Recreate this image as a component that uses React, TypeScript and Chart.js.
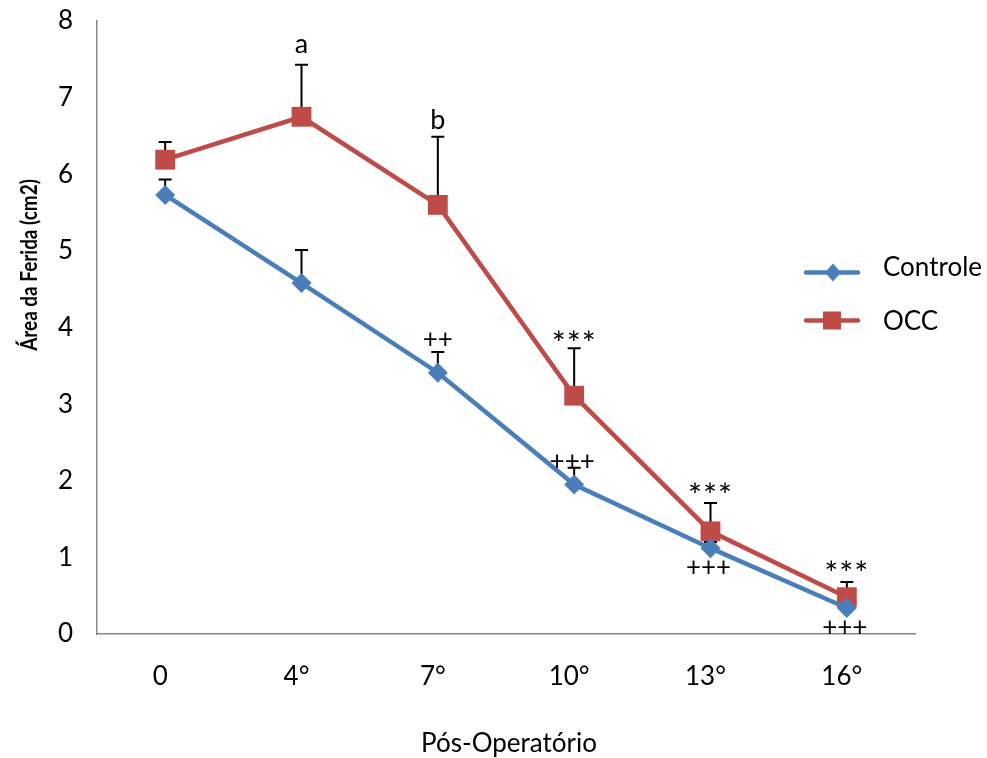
import React, { useEffect, useRef } from 'react';
import { Chart, registerables } from 'chart.js';

Chart.register(...registerables);

const categories = ['0', '4°', '7°', '10°', '13°', '16°'];
const controleValues = [5.73, 4.58, 3.41, 1.95, 1.12, 0.34];
const occValues = [6.19, 6.75, 5.6, 3.11, 1.34, 0.48];
const controleErrorTop = [5.93, 5.01, 3.68, 2.17, 1.2, 0.42];
const occErrorTop = [6.42, 7.43, 6.49, 3.73, 1.71, 0.68];
const yTicks = [0, 1, 2, 3, 4, 5, 6, 7, 8];

const noteTexts = ['a', 'b', '++', '***', '+++', '***', '+++', '***', '+++'];
const noteCategory = [1, 2, 2, 3, 3, 4, 4, 5, 5];
const noteValue = [7.7, 6.71, 3.84, 3.9, 2.25, 1.91, 0.87, 0.89, 0.08];

const BLUE = '#4A7EBB';
const RED = '#BE4B48';
const FONT = 'Lato, "Open Sans", sans-serif';

const extrasPlugin = {
  id: 'extras',
  beforeDatasetsDraw(chart: any) {
    const { ctx, scales } = chart;
    const x = scales.x;
    const y = scales.y;
    ctx.save();
    ctx.strokeStyle = '#000';
    ctx.lineWidth = 2;
    const drawErr = (vals: number[], tops: number[]) => {
      vals.forEach((v, i) => {
        const px = x.getPixelForValue(i);
        const py = y.getPixelForValue(v);
        const pt = y.getPixelForValue(tops[i]);
        ctx.beginPath();
        ctx.moveTo(px, py);
        ctx.lineTo(px, pt);
        ctx.moveTo(px - 6.5, pt);
        ctx.lineTo(px + 6.5, pt);
        ctx.stroke();
      });
    };
    drawErr(controleValues, controleErrorTop);
    drawErr(occValues, occErrorTop);
    ctx.restore();
  },
  afterDraw(chart: any) {
    const { ctx, scales } = chart;
    const x = scales.x;
    const y = scales.y;
    ctx.save();
    ctx.fillStyle = '#000';
    ctx.textAlign = 'center';
    ctx.textBaseline = 'middle';
    noteTexts.forEach((t, i) => {
      const letter = t === 'a' || t === 'b';
      const star = t === '***';
      ctx.font = `${letter ? 27 : star ? 33 : 26}px ${FONT}`;
      (ctx as any).letterSpacing = star ? '1px' : '0px';
      const px = x.getPixelForValue(noteCategory[i]) - (t === '+++' ? 2 : 0);
      let py = y.getPixelForValue(noteValue[i]);
      if (star) py += 9;
      ctx.fillText(t, px, py);
    });
    (ctx as any).letterSpacing = '0px';

    // y title
    ctx.save();
    ctx.translate(30, 265);
    ctx.rotate(-Math.PI / 2);
    ctx.scale(0.86, 1);
    ctx.font = `bold 22px ${FONT}`;
    ctx.textAlign = 'center';
    ctx.textBaseline = 'middle';
    ctx.fillText('Área da Ferida (cm2)', 0, 0);
    ctx.restore();

    // x title
    ctx.font = `26px ${FONT}`;
    ctx.textAlign = 'center';
    ctx.textBaseline = 'alphabetic';
    ctx.fillText('Pós-Operatório', 509, 752);

    // legend
    const items = [
      { label: 'Controle', color: BLUE, style: 'diamond', yy: 272.5, ty: 276 },
      { label: 'OCC', color: RED, style: 'square', yy: 320.5, ty: 330 },
    ];
    items.forEach((it) => {
      ctx.strokeStyle = it.color;
      ctx.lineWidth = 4.5;
      ctx.lineCap = 'round';
      ctx.beginPath();
      ctx.moveTo(806, it.yy);
      ctx.lineTo(858, it.yy);
      ctx.stroke();
      ctx.fillStyle = it.color;
      if (it.style === 'diamond') {
        ctx.beginPath();
        ctx.moveTo(833, it.yy - 9);
        ctx.lineTo(841, it.yy);
        ctx.lineTo(833, it.yy + 9);
        ctx.lineTo(825, it.yy);
        ctx.closePath();
        ctx.fill();
      } else {
        ctx.fillRect(823, it.yy - 9, 18, 18);
      }
      ctx.fillStyle = '#000';
      ctx.font = `26px ${FONT}`;
      ctx.textAlign = 'left';
      ctx.textBaseline = 'alphabetic';
      ctx.fillText(it.label, 883, it.ty);
    });
    ctx.restore();
  },
};

export default function App() {
  const ref = useRef<HTMLCanvasElement>(null);
  useEffect(() => {
    document.body.style.margin = '0';
    const chart = new Chart(ref.current as HTMLCanvasElement, {
      type: 'line',
      data: {
        labels: categories,
        datasets: [
          {
            label: 'Controle',
            data: controleValues,
            borderColor: BLUE,
            backgroundColor: BLUE,
            borderWidth: 4.5,
            pointStyle: 'rectRot',
            pointRadius: 10,
            pointBorderWidth: 0,
            tension: 0,
          },
          {
            label: 'OCC',
            data: occValues,
            borderColor: RED,
            backgroundColor: RED,
            borderWidth: 4.5,
            pointStyle: 'rect',
            pointRadius: 14,
            pointBorderWidth: 0,
            tension: 0,
          },
        ],
      },
      options: {
        responsive: false,
        animation: false,
        devicePixelRatio: 1,
        layout: { padding: { top: 21, right: 72, left: 0, bottom: 0 } },
        plugins: { legend: { display: false }, tooltip: { enabled: false } },
        scales: {
          x: {
            offset: true,
            grid: { display: false, drawTicks: false },
            border: { display: true, color: '#868686', width: 1.5 },
            ticks: { color: '#000', font: { family: FONT, size: 26 }, padding: 27, labelOffset: -5 },
            afterFit: (s: any) => {
              s.height = 124;
              s.paddingLeft = 0;
              s.paddingRight = 0;
            },
          },
          y: {
            min: 0,
            max: 8,
            grid: { display: false, drawTicks: false },
            border: { display: true, color: '#868686', width: 1.5 },
            afterBuildTicks: (s: any) => {
              s.ticks = yTicks.map((v) => ({ value: v }));
            },
            ticks: { color: '#000', font: { family: FONT, size: 26 }, padding: 24 },
            afterFit: (s: any) => {
              s.width = 97;
              s.paddingTop = 0;
              s.paddingBottom = 0;
            },
          },
        },
      },
      plugins: [extrasPlugin],
    });
    return () => chart.destroy();
  }, []);
  return <canvas ref={ref} width={987} height={758} style={{ display: 'block' }} />;
}
